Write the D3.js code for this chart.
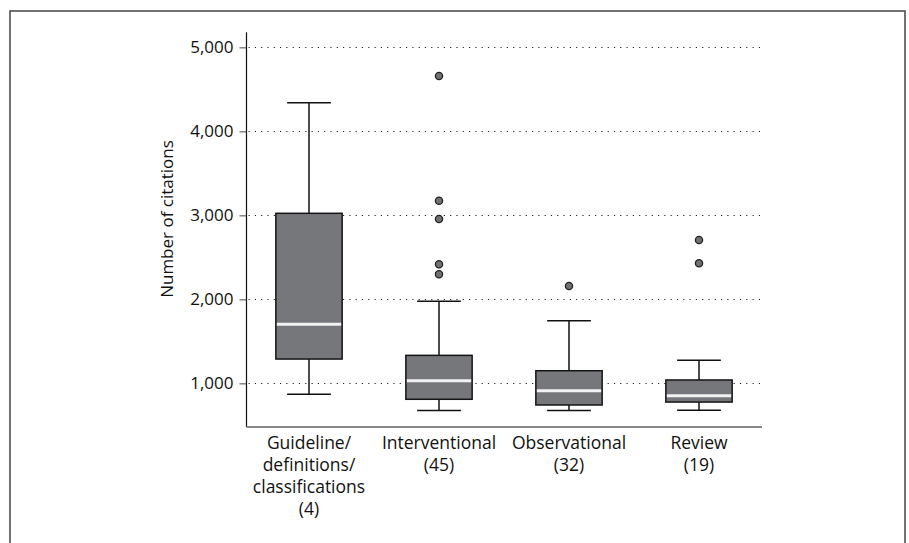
<!DOCTYPE html>
<html>
<head>
<meta charset="utf-8">
<script src="https://cdn.jsdelivr.net/npm/d3@7"></script>
<style>
  body { margin: 0; background: #fff; }
  text { font-family: "Open Sans", "Noto Sans", sans-serif; fill: #111; }
</style>
</head>
<body>
<svg id="chart" width="909" height="543"></svg>
<script>
const categories = ["Guideline", "Interventional", "Observational", "Review"];
const labelLines = [
    ["Guideline/", "definitions/", "classifications", "(4)"],
    ["Interventional", "(45)"],
    ["Observational", "(32)"],
    ["Review", "(19)"]
];
const whiskerLow = [869, 675, 675, 679];
const q1 = [1289, 810, 742, 777];
const median = [1702, 1032, 912, 852];
const q3 = [3024, 1333, 1150, 1040];
const whiskerHigh = [4341, 1976, 1746, 1274];
const outliers = [[], [4658, 3174, 2956, 2417, 2298], [2158], [2706, 2429]];
const yTicks = [1000, 2000, 3000, 4000, 5000];

const svg = d3.select("#chart");

// outer frame
svg.append("rect")
    .attr("x", 10)
    .attr("y", 11)
    .attr("width", 895)
    .attr("height", 560)
    .attr("fill", "none")
    .attr("stroke", "#444")
    .attr("stroke-width", 1.5);

const x = d3.scaleBand()
    .domain(categories)
    .range([244, 764])
    .padding(0);

const y = d3.scaleLinear()
    .domain([480, 5180])
    .range([427, 32.2]);

const axisLeft = 246.5;
const axisRight = 762;

// dotted gridlines
svg.append("g")
    .selectAll("line")
    .data(yTicks)
    .join("line")
    .attr("x1", axisLeft + 2)
    .attr("x2", axisRight)
    .attr("y1", d => Math.round(y(d)) + 0.5)
    .attr("y2", d => Math.round(y(d)) + 0.5)
    .attr("stroke", "#222")
    .attr("stroke-width", 1)
    .attr("stroke-dasharray", "1.2,5.1");

// Y axis
const yAxis = svg.append("g")
    .attr("transform", `translate(${axisLeft}, 0)`)
    .call(d3.axisLeft(y).tickValues(yTicks).tickFormat(d3.format(",")).tickSize(7).tickPadding(6));
yAxis.select(".domain").remove();
yAxis.selectAll(".tick line").attr("stroke", "#666").attr("stroke-width", 1.2);
yAxis.selectAll("text").style("font-size", "17px").attr("fill", "#111");

svg.append("line")
    .attr("x1", axisLeft).attr("x2", axisLeft)
    .attr("y1", y.range()[1]).attr("y2", y.range()[0])
    .attr("stroke", "#111").attr("stroke-width", 1.2);

// X axis line
svg.append("line")
    .attr("x1", axisLeft).attr("x2", axisRight)
    .attr("y1", y.range()[0]).attr("y2", y.range()[0])
    .attr("stroke", "#888").attr("stroke-width", 2);

svg.append("text")
    .attr("transform", "rotate(-90)")
    .attr("x", -219)
    .attr("y", 173)
    .attr("text-anchor", "middle")
    .style("font-size", "17px")
    .text("Number of citations");

// x labels
const xLabels = svg.append("g");
categories.forEach((c, i) => {
    xLabels.append("text")
        .attr("x", x(c) + x.bandwidth() / 2)
        .attr("y", 449)
        .attr("text-anchor", "middle")
        .style("font-size", "17.5px")
        .selectAll("tspan")
        .data(labelLines[i])
        .join("tspan")
        .attr("x", x(c) + x.bandwidth() / 2)
        .attr("dy", (d, j) => j === 0 ? 0 : 22)
        .text(d => d);
});

// boxes
const boxW = x.bandwidth() * 0.51;
const capW = boxW * 0.66;
const boxes = svg.append("g");
categories.forEach((c, i) => {
    const cx = x(c) + x.bandwidth() / 2;
    const g = boxes.append("g");
    g.append("line")
        .attr("x1", cx).attr("x2", cx)
        .attr("y1", y(whiskerLow[i])).attr("y2", y(whiskerHigh[i]))
        .attr("stroke", "#111").attr("stroke-width", 1.5);
    [whiskerLow[i], whiskerHigh[i]].forEach(v => {
        g.append("line")
            .attr("x1", cx - capW / 2).attr("x2", cx + capW / 2)
            .attr("y1", y(v)).attr("y2", y(v))
            .attr("stroke", "#111").attr("stroke-width", 1.5);
    });
    g.append("rect")
        .attr("x", cx - boxW / 2)
        .attr("y", y(q3[i]))
        .attr("width", boxW)
        .attr("height", y(q1[i]) - y(q3[i]))
        .attr("fill", "#76777b")
        .attr("stroke", "#151515")
        .attr("stroke-width", 1.5);
    g.append("line")
        .attr("x1", cx - boxW / 2 + 1).attr("x2", cx + boxW / 2 - 1)
        .attr("y1", y(median[i])).attr("y2", y(median[i]))
        .attr("stroke", "#f2f2f2").attr("stroke-width", 3);
    g.selectAll("circle")
        .data(outliers[i])
        .join("circle")
        .attr("cx", cx)
        .attr("cy", d => y(d))
        .attr("r", 3.6)
        .attr("fill", "#727276")
        .attr("stroke", "#222")
        .attr("stroke-width", 1.3);
});
</script>
</body>
</html>
